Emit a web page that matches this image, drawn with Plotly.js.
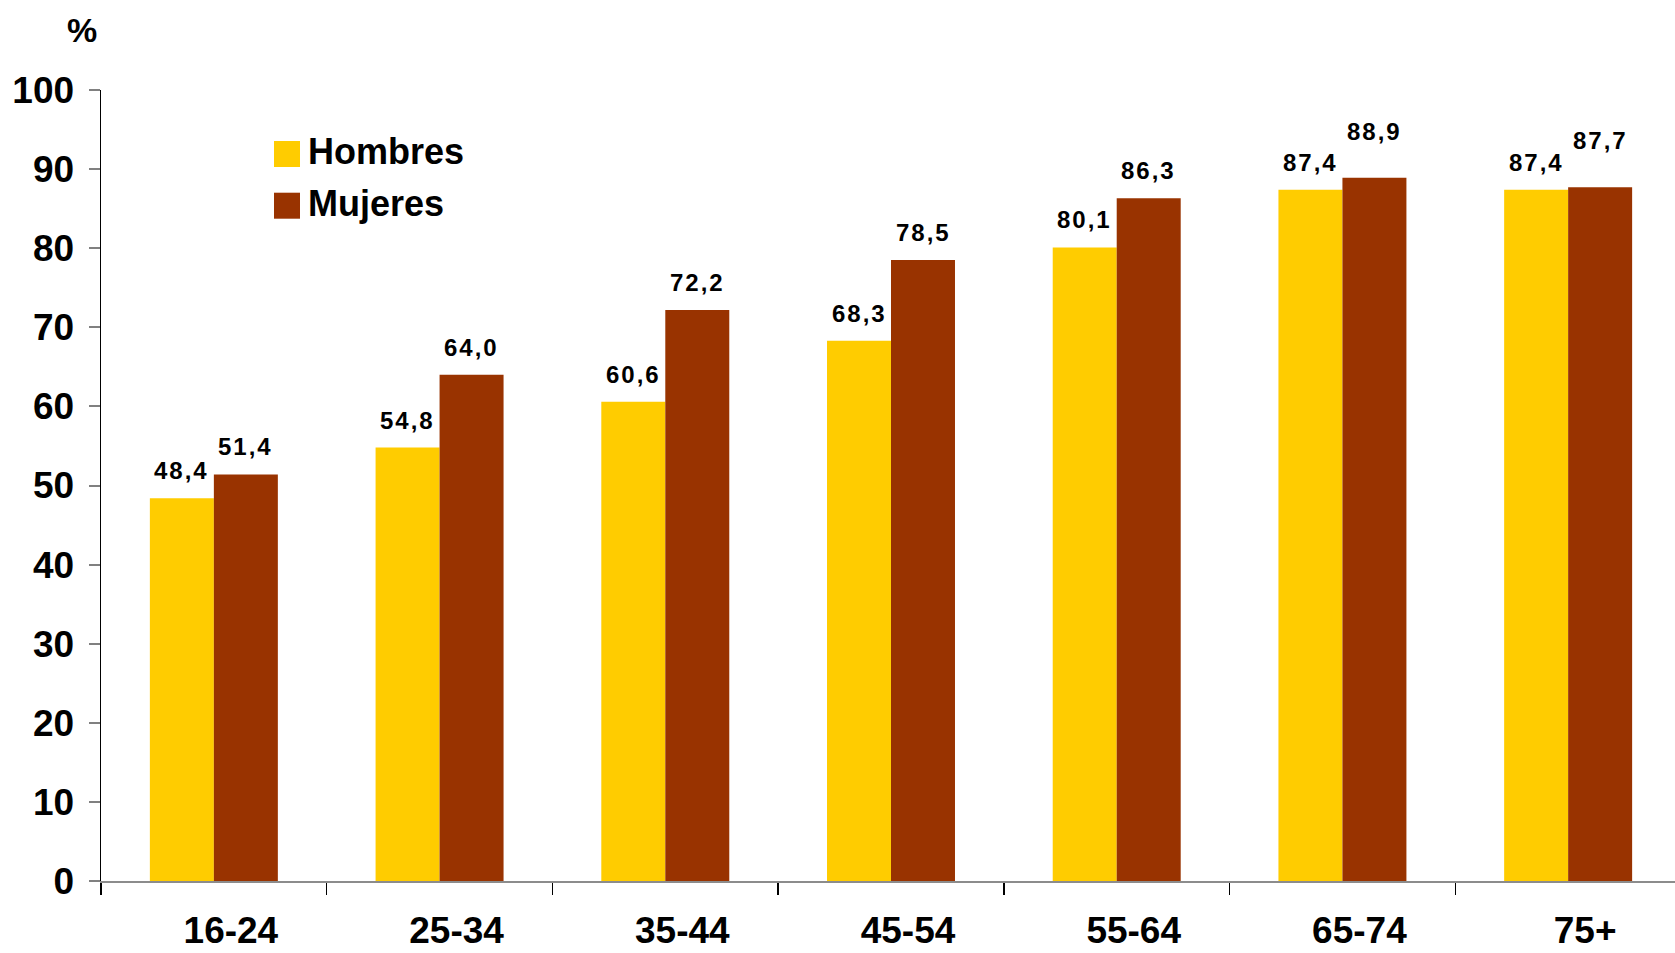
<!DOCTYPE html>
<html>
<head>
<meta charset="utf-8">
<script src="https://cdn.plot.ly/plotly-3.0.1.min.js"></script>
<style>html,body{margin:0;padding:0;background:#fff;}#chart{width:1675px;height:953px;}</style>
</head>
<body>
<div id="chart"></div>
<script>
// ---- data ----
const categories = ["16-24", "25-34", "35-44", "45-54", "55-64", "65-74", "75+"];
const seriesNames = ["Hombres", "Mujeres"];
const hombres = [48.4, 54.8, 60.6, 68.3, 80.1, 87.4, 87.4];
const mujeres = [51.4, 64.0, 72.2, 78.5, 86.3, 88.9, 87.7];
const yTickValues = [0, 10, 20, 30, 40, 50, 60, 70, 80, 90, 100];
const yUnitLabel = "%";

// ---- styling / layout ----
const W = 1675, H = 953;
const M = {l: 101, r: 0, t: 90, b: 72};
const FONT = 'Arial, "Liberation Sans", sans-serif';
const colors = ["#FFCC00", "#993300"];
const bargap = 0.433;
const half = (1 - bargap) / 4;
const plotW = W - M.l - M.r, plotH = H - M.t - M.b;
const px2x = p => (p - M.l) / plotW;
const px2y = p => (H - M.b - p) / plotH;
const fmt = v => v.toFixed(1).replace('.', ',');

const traces = [hombres, mujeres].map((vals, i) => ({
  type: 'bar',
  name: seriesNames[i],
  x: categories,
  y: vals,
  marker: {color: colors[i], line: {width: 0}},
  hoverinfo: 'skip'
}));

const annotations = [];
const shapes = [];
// custom legend + unit label first
const legendRows = [154, 205.7];
seriesNames.forEach((n, i) => {
  const cy = legendRows[i];
  shapes.push({type: 'rect', xref: 'paper', yref: 'paper', x0: px2x(274), x1: px2x(300),
    y0: px2y(cy + 13), y1: px2y(cy - 13), fillcolor: colors[i], line: {width: 0}});
  annotations.push({xref: 'paper', yref: 'paper', x: px2x(306), y: px2y(cy - 2), xanchor: 'left', yanchor: 'middle',
    text: n, showarrow: false, font: {family: FONT, size: 36, color: '#000', weight: 'bold'}});
});
annotations.push({xref: 'paper', yref: 'paper', x: px2x(82), y: px2y(29.5), xanchor: 'center', yanchor: 'middle',
  text: yUnitLabel, showarrow: false, font: {family: FONT, size: 34, color: '#000', weight: 'bold'}});
const firstValueLabel = annotations.length;

// value labels
categories.forEach((c, i) => {
  const close = Math.abs(mujeres[i] - hombres[i]) < 2;
  annotations.push({x: i - half, y: hombres[i], xref: 'x', yref: 'y', text: fmt(hombres[i]),
    showarrow: false, yanchor: 'bottom', yshift: 12, font: {family: FONT, size: 24, color: '#000', weight: 'bold'}});
  annotations.push({x: i + half, y: mujeres[i], xref: 'x', yref: 'y', text: fmt(mujeres[i]),
    showarrow: false, yanchor: 'bottom', yshift: close ? 31 : 12, font: {family: FONT, size: 24, color: '#000', weight: 'bold'}});
});

// letter spacing for value labels (as in the original rendering)
(function () {
  let css = '';
  for (let k = firstValueLabel; k < annotations.length; k++) {
    css += '.annotation[data-index="' + k + '"] .annotation-text{letter-spacing:2px;}\n';
  }
  const st = document.createElement('style');
  st.textContent = css;
  document.head.appendChild(st);
})();

const layout = {
  width: W, height: H,
  margin: {l: M.l, r: M.r, t: M.t, b: M.b, pad: 0},
  paper_bgcolor: '#fff', plot_bgcolor: '#fff',
  showlegend: false,
  barmode: 'group',
  bargap: bargap,
  bargroupgap: 0,
  font: {family: FONT, color: '#000'},
  xaxis: {
    type: 'category',
    range: [-0.5, 6.5 - 6 / 225.7],
    showline: true, linecolor: '#8c8c8c', linewidth: 2,
    ticks: 'outside', tickson: 'boundaries', ticklen: 12, tickcolor: '#000', tickwidth: 1.5,
    tickfont: {family: FONT, size: 37, color: '#000', weight: 'bold'},
    ticklabelstandoff: 16, ticklabelshift: 17,
    showgrid: false, zeroline: false, fixedrange: true
  },
  yaxis: {
    range: [0, 100],
    tickvals: yTickValues,
    showline: true, linecolor: '#000', linewidth: 1.5,
    ticks: 'outside', ticklen: 11, tickcolor: '#808080', tickwidth: 2,
    tickfont: {family: FONT, size: 37, color: '#000', weight: 'bold'},
    ticklabelstandoff: 7,
    showgrid: false, zeroline: false, fixedrange: true
  },
  shapes: shapes,
  annotations: annotations
};

Plotly.newPlot('chart', traces, layout, {displayModeBar: false, staticPlot: true});
</script>
</body>
</html>
